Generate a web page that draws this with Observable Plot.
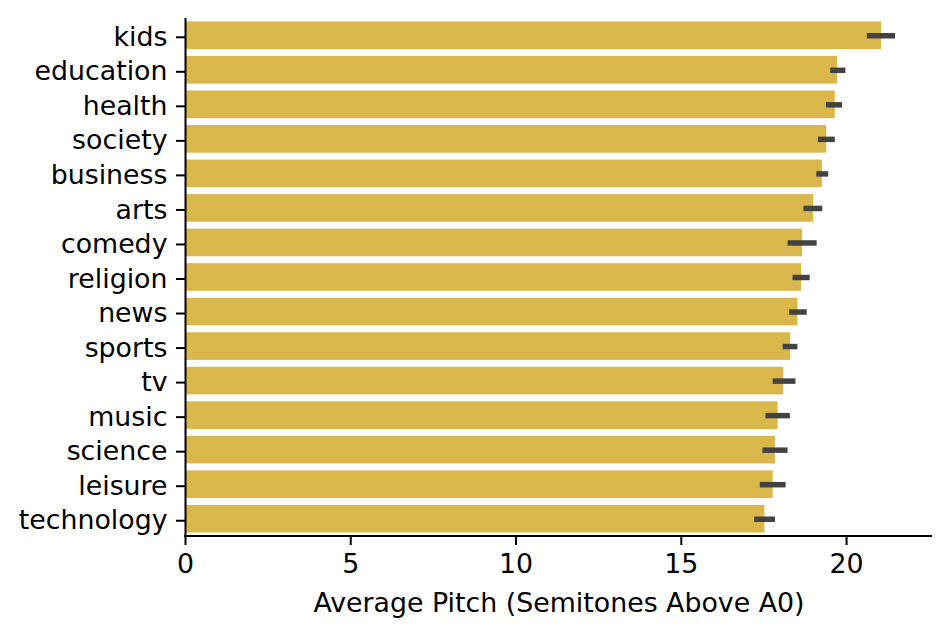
<!DOCTYPE html>
<html>
<head>
<meta charset="utf-8">
<script src="https://cdn.jsdelivr.net/npm/d3@7"></script>
<script src="https://cdn.jsdelivr.net/npm/@observablehq/plot@0.6"></script>
<style>
  html, body { margin: 0; padding: 0; background: #fff; }
  #chart svg { display: block; }
</style>
</head>
<body>
<div id="chart"></div>
<script>
const categories = ["kids","education","health","society","business","arts","comedy","religion","news","sports","tv","music","science","leisure","technology"];
const means = [21.06,19.73,19.66,19.40,19.27,19.00,18.67,18.64,18.53,18.31,18.10,17.93,17.85,17.78,17.53];
const ciLow = [20.63,19.52,19.39,19.15,19.10,18.71,18.23,18.38,18.28,18.08,17.78,17.56,17.47,17.39,17.22];
const ciHigh = [21.48,19.98,19.88,19.66,19.46,19.28,19.11,18.90,18.81,18.53,18.47,18.30,18.23,18.17,17.85];

const data = categories.map((c, i) => ({category: c, mean: means[i], lo: ciLow[i], hi: ciHigh[i]}));

const font = "'DejaVu Sans', sans-serif";
const fs = 26.8;
const chart = Plot.plot({
  width: 947,
  height: 635,
  marginLeft: 185,
  marginRight: 15,
  marginTop: 18,
  marginBottom: 99,
  style: {fontFamily: font, fontSize: fs + "px", color: "#000", background: "#fff"},
  x: {domain: [0, 22.6]},
  y: {domain: categories, paddingInner: 0.2, paddingOuter: 0.1, round: false},
  marks: [
    Plot.barX(data, {y: "category", x: "mean", fill: "#dab74a"}),
    Plot.ruleY(data, {y: "category", x1: "lo", x2: "hi", stroke: "#424242", strokeWidth: 5.5}),
    Plot.axisY({tickSize: 9, tickPadding: 9, strokeWidth: 2, label: null, fontSize: fs, dy: 1.5}),
    Plot.axisX({ticks: [0,5,10,15,20], tickFormat: d3.format("d"), tickSize: 9, tickPadding: 8, strokeWidth: 2, fontSize: fs,
      label: "Average Pitch (Semitones Above A0)", labelAnchor: "center", labelArrow: "none", labelOffset: 75}),
    Plot.ruleX([0], {strokeWidth: 2})
  ]
});
document.getElementById("chart").appendChild(chart);

// bottom spine drawn from the scale's own range
const xs = chart.scale("x");
const svg = d3.select(chart);
const yBottom = 635 - 99;
svg.append("line")
  .attr("x1", xs.range[0] - 1).attr("x2", xs.range[1])
  .attr("y1", yBottom).attr("y2", yBottom)
  .attr("stroke", "#000").attr("stroke-width", 2);
</script>
</body>
</html>
